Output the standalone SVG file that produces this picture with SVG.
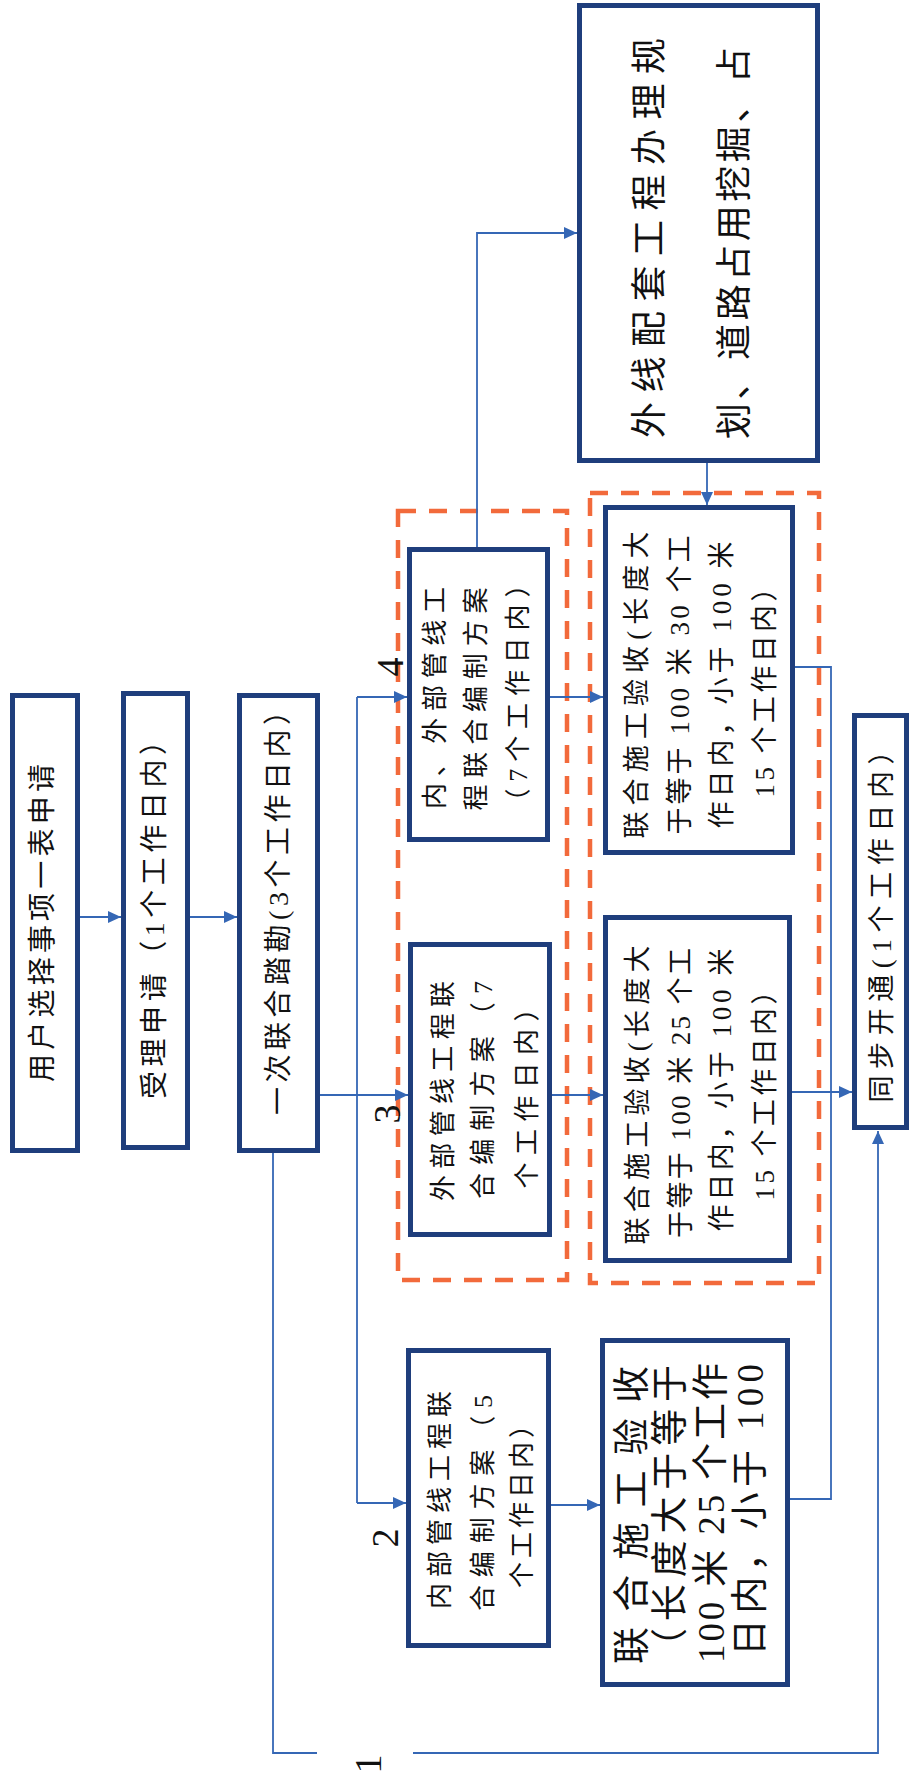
<svg xmlns="http://www.w3.org/2000/svg" width="915" height="1778" viewBox="0 0 915 1778">
<defs>
<style>
.box{fill:#fff;stroke:#1F3E7C;stroke-width:5}
.grp{fill:none;stroke:#F26A3B;stroke-width:4.5;stroke-dasharray:18 13}
.cn{fill:none;stroke:#3567B5;stroke-width:1.8}
.t{font-family:"Liberation Serif","Noto Sans CJK SC",serif;fill:#111;text-anchor:middle;dominant-baseline:central}
.s28{font-size:28px}.s26{font-size:26px}.s27{font-size:27px}.s37{font-size:37px}.s36{font-size:36px}
.num{font-family:"Liberation Serif",serif;font-size:38px;fill:#111;text-anchor:middle;dominant-baseline:central}
</style>
<marker id="arr" viewBox="0 0 13 12" refX="13" refY="6" markerWidth="13" markerHeight="12" markerUnits="userSpaceOnUse" orient="auto">
<path d="M0,0 L13,6 L0,12 z" fill="#3567B5"/>
</marker>
</defs>
<rect width="915" height="1778" fill="#fff"/>
<g id="groups">
<rect class="grp" x="398" y="511" width="169" height="769"/>
<rect class="grp" x="590" y="493" width="229" height="790"/>
</g>
<g id="connectors">
<path class="cn" d="M80,917 H121" marker-end="url(#arr)"/>
<path class="cn" d="M190,917 H237" marker-end="url(#arr)"/>
<path class="cn" d="M320,1095 H408" marker-end="url(#arr)"/>
<path class="cn" d="M357,697 V1503"/>
<path class="cn" d="M357,697 H407" marker-end="url(#arr)"/>
<path class="cn" d="M357,1503 H406" marker-end="url(#arr)"/>
<path class="cn" d="M550,697 H603" marker-end="url(#arr)"/>
<path class="cn" d="M552,1095 H603" marker-end="url(#arr)"/>
<path class="cn" d="M551,1505 H600" marker-end="url(#arr)"/>
<path class="cn" d="M477,547 V233 H577" marker-end="url(#arr)"/>
<path class="cn" d="M707,463 V505" marker-end="url(#arr)"/>
<path class="cn" d="M795,667 H831 V1092"/>
<path class="cn" d="M792,1092 H852" marker-end="url(#arr)"/>
<path class="cn" d="M790,1499 H831 V1092"/>
<path class="cn" d="M273,1153 V1753 H317"/>
<path class="cn" d="M413,1753 H878 V1131" marker-end="url(#arr)"/>
</g>
<g id="labels">
<text class="num" transform="translate(368,1764) rotate(-90)">1</text>
<text class="num" transform="translate(385,1538) rotate(-90)">2</text>
<text class="num" transform="translate(387,1114) rotate(-90)">3</text>
<text class="num" transform="translate(390,667) rotate(-90)">4</text>
</g>
<g id="n1">
<rect class="box" x="12.5" y="695.5" width="65" height="455"/>
<text class="t s28" transform="translate(42,923) rotate(-90)" textLength="318" lengthAdjust="spacing">用户选择事项一表申请</text>
</g>
<g id="n2">
<rect class="box" x="123.5" y="693.5" width="64" height="454"/>
<text class="t s28" transform="translate(154,913) rotate(-90)" textLength="372" lengthAdjust="spacing">受理申请（1个工作日内）</text>
</g>
<g id="n3">
<rect class="box" x="239.5" y="695.5" width="78" height="455"/>
<text class="t s28" transform="translate(278,906) rotate(-90)" textLength="418" lengthAdjust="spacing">一次联合踏勘(3个工作日内）</text>
</g>
<g id="n4">
<rect class="box" x="409.5" y="549.5" width="138" height="290"/>
<text class="t s26" transform="translate(435,698) rotate(-90)" textLength="222" lengthAdjust="spacing">内、外部管线工</text>
<text class="t s26" transform="translate(476,699) rotate(-90)" textLength="223" lengthAdjust="spacing">程联合编制方案</text>
<text class="t s26" transform="translate(518,693) rotate(-90)" textLength="243" lengthAdjust="spacing">（7个工作日内）</text>
</g>
<g id="n5">
<rect class="box" x="410.5" y="944.5" width="139" height="290"/>
<text class="t s26" transform="translate(443,1091) rotate(-90)" textLength="220" lengthAdjust="spacing">外部管线工程联</text>
<text class="t s26" transform="translate(483,1090) rotate(-90)" textLength="218" lengthAdjust="spacing">合编制方案（7</text>
<text class="t s26" transform="translate(527,1092) rotate(-90)" textLength="193" lengthAdjust="spacing">个工作日内）</text>
</g>
<g id="n6">
<rect class="box" x="408.5" y="1350.5" width="140" height="295"/>
<text class="t s26" transform="translate(440,1500) rotate(-90)" textLength="218" lengthAdjust="spacing">内部管线工程联</text>
<text class="t s26" transform="translate(483,1503) rotate(-90)" textLength="216" lengthAdjust="spacing">合编制方案（5</text>
<text class="t s26" transform="translate(522,1500) rotate(-90)" textLength="176" lengthAdjust="spacing">个工作日内）</text>
</g>
<g id="n7">
<rect class="box" x="579.5" y="5.5" width="238" height="455"/>
<text class="t s36" transform="translate(650,238) rotate(-90)" textLength="400" lengthAdjust="spacing">外线配套工程办理规</text>
<text class="t s36" transform="translate(735,243) rotate(-90)" textLength="392" lengthAdjust="spacing">划、道路占用挖掘、占</text>
</g>
<g id="n8">
<rect class="box" x="605.5" y="507.5" width="187" height="345"/>
<text class="t s27" transform="translate(637,685) rotate(-90)" textLength="307" lengthAdjust="spacing">联合施工验收(长度大</text>
<text class="t s27" transform="translate(680,685) rotate(-90)" textLength="299" lengthAdjust="spacing">于等于 100 米 30 个工</text>
<text class="t s27" transform="translate(722,685) rotate(-90)" textLength="287" lengthAdjust="spacing">作日内，小于 100 米</text>
<text class="t s27" transform="translate(765,686) rotate(-90)" textLength="223" lengthAdjust="spacing">15 个工作日内）</text>
</g>
<g id="n9">
<rect class="box" x="605.5" y="917.5" width="184" height="343"/>
<text class="t s27" transform="translate(638,1095) rotate(-90)" textLength="299" lengthAdjust="spacing">联合施工验收(长度大</text>
<text class="t s27" transform="translate(681,1093) rotate(-90)" textLength="290" lengthAdjust="spacing">于等于 100 米 25 个工</text>
<text class="t s27" transform="translate(722,1090) rotate(-90)" textLength="283" lengthAdjust="spacing">作日内，小于 100 米</text>
<text class="t s27" transform="translate(765,1089) rotate(-90)" textLength="223" lengthAdjust="spacing">15 个工作日内）</text>
</g>
<g id="n10">
<rect class="box" x="602.5" y="1340.5" width="185" height="344"/>
<text class="t s37" transform="translate(632,1515) rotate(-90)" textLength="298" lengthAdjust="spacing">联合施工验收</text>
<text class="t s37" transform="translate(670,1515) rotate(-90)" textLength="300" lengthAdjust="spacing">（长度大于等于</text>
<text class="t s37" transform="translate(711,1513) rotate(-90)" textLength="300" lengthAdjust="spacing">100 米 25 个工作</text>
<text class="t s37" transform="translate(750,1510) rotate(-90)" textLength="292" lengthAdjust="spacing">日内，小于 100</text>
</g>
<g id="n11">
<rect class="box" x="854.5" y="715.5" width="52" height="412"/>
<text class="t s27" transform="translate(882,920) rotate(-90)" textLength="365" lengthAdjust="spacing">同步开通(1个工作日内）</text>
</g>
</svg>
